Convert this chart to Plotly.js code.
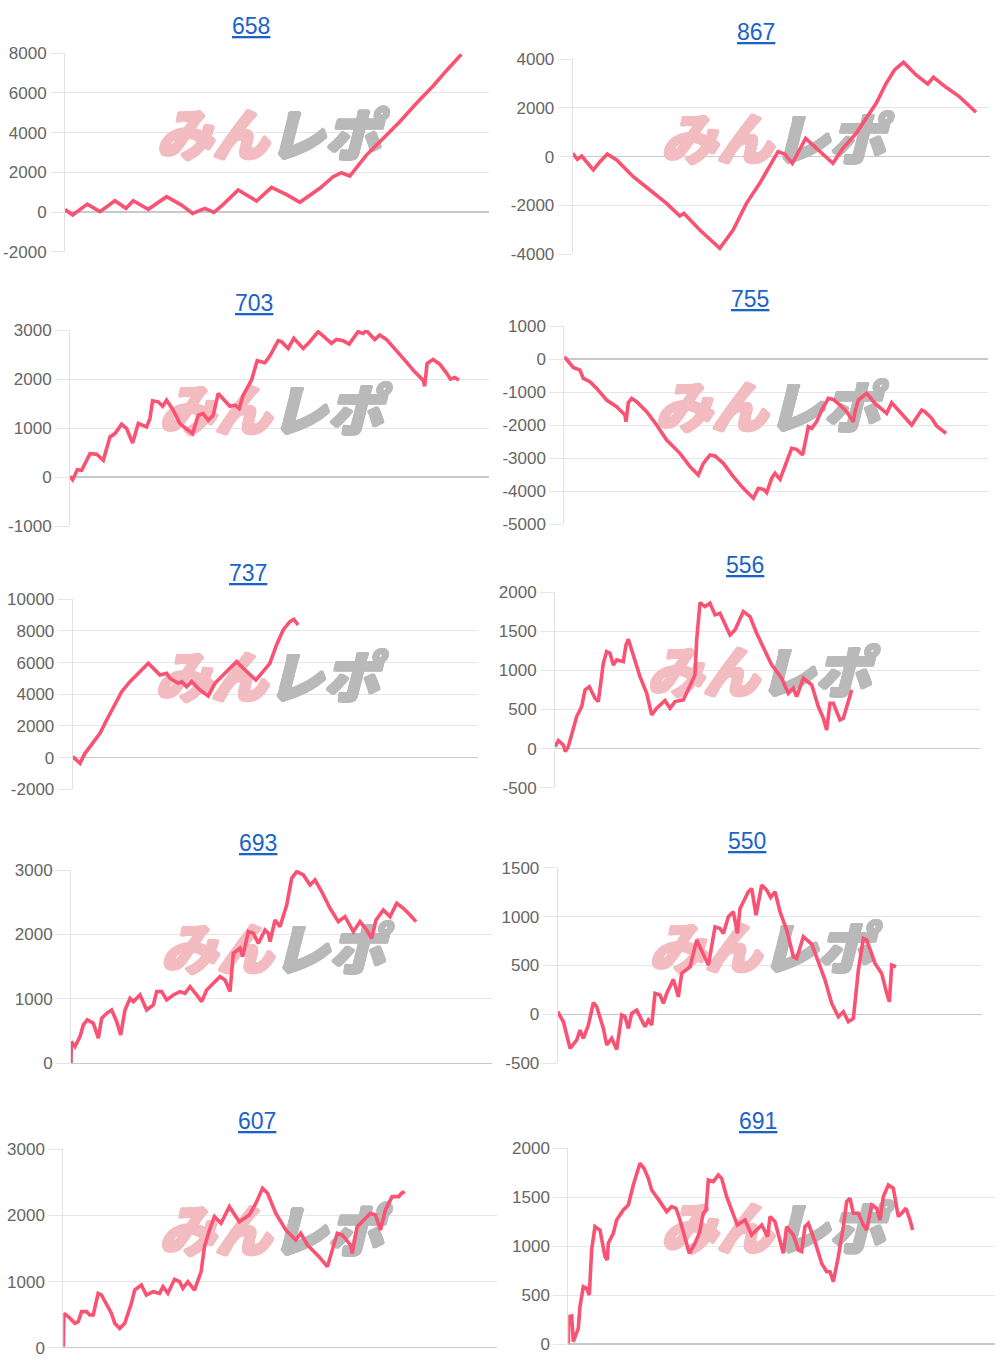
<!DOCTYPE html>
<html>
<head>
<meta charset="utf-8">
<script src="https://cdn.plot.ly/plotly-3.0.1.min.js"></script>
<style>html,body{margin:0;padding:0;background:#fff;}#chart{width:1000px;height:1368px;}</style>
</head>
<body>
<div id="chart"></div>
<script>
// ---- data (game count vs. cumulative difference) ----
const titles = ['658','867','703','755','737','556','693','550','607','691'];

const g658 = [0,230,670,1050,1500,1830,2050,2500,3050,3500,3830,4200,4470,4730,5200,5750,6200,6670,7050,7650,8050,8300,8550,9050,9550,10050,10550,11050,11450,11900];
const v658 = [130,-150,400,20,570,185,570,135,770,350,-70,185,-15,350,1110,555,1245,860,490,1195,1780,1980,1815,2870,3710,4555,5480,6350,7125,7950];

const g867 = [0,140,270,620,820,1040,1320,1820,2320,2820,3220,3340,3820,4420,4820,5220,5620,5920,6170,6370,6600,7000,7420,7820,8120,8520,8820,9120,9420,9670,9940,10320,10670,10840,11220,11620,12120];
const v867 = [137,-110,27,-548,-205,110,-137,-822,-1370,-1918,-2438,-2329,-3014,-3767,-3014,-1918,-1096,-411,205,110,-274,753,205,-274,342,959,1575,2192,3014,3562,3877,3356,2986,3260,2849,2466,1822];

const g703 = [0,80,220,350,600,800,1000,1200,1350,1550,1700,1880,2050,2300,2400,2480,2650,2780,2900,3100,3300,3500,3680,3850,4000,4150,4300,4450,4800,4950,5080,5200,5450,5620,5850,6000,6250,6350,6550,6720,7000,7200,7450,7650,7850,8000,8200,8380,8650,8800,8900,9150,9300,9500,9750,10050,10350,10600,10650,10720,10900,11100,11300,11420,11550,11680];
const v703 = [14,-55,150,136,477,464,341,818,886,1077,988,695,1091,1022,1193,1554,1534,1445,1568,1363,1091,988,886,1261,1295,1159,1261,1704,1445,1466,1397,1670,1977,2372,2331,2468,2781,2761,2624,2829,2624,2761,2965,2849,2727,2808,2781,2713,2965,2931,2986,2808,2897,2808,2624,2386,2147,1977,1854,2318,2399,2304,2127,1997,2031,1977];

const g755 = [0,170,270,470,570,770,970,1270,1570,1820,1850,1920,2020,2170,2470,2770,3070,3470,3770,4020,4170,4370,4520,4770,5070,5370,5670,5820,5970,6070,6220,6320,6470,6670,6820,6970,7150,7320,7420,7570,7720,7920,8070,8270,8470,8670,8720,8820,9070,9320,9670,9820,10070,10420,10720,10820,11020,11170,11450];
const v755 = [71,-131,-252,-333,-585,-685,-887,-1240,-1442,-1694,-1895,-1321,-1190,-1290,-1593,-1996,-2450,-2853,-3256,-3508,-3155,-2903,-2933,-3155,-3558,-3911,-4214,-3911,-3942,-4042,-3609,-3458,-3639,-3105,-2702,-2732,-2903,-2046,-2097,-1895,-1542,-1190,-1220,-1391,-1593,-1895,-1593,-1240,-1038,-1341,-1643,-1321,-1593,-1996,-1542,-1593,-1794,-2026,-2248];

const g737 = [0,220,370,620,820,1020,1220,1470,1720,2020,2270,2520,2620,2820,2920,3170,3270,3420,3570,3820,4070,4270,4470,4720,4920,5120,5320,5500,5670,5920,6120,6320,6520,6640,6770];
const v737 = [63,-358,274,1011,1537,2379,3221,4168,4800,5432,5958,5432,5221,5326,5011,4695,4800,4484,4800,4274,3895,4695,5116,5642,6063,5642,5221,4905,5326,5958,7116,8063,8589,8737,8379];

const g556 = [0,100,250,310,400,500,650,800,900,1030,1200,1300,1450,1550,1650,1750,1850,2050,2130,2200,2350,2550,2750,2900,3050,3300,3450,3600,3850,4050,4200,4250,4350,4500,4650,4800,4950,5250,5400,5650,5850,6050,6250,6500,6800,7000,7150,7250,7450,7700,7900,8050,8150,8250,8350,8550,8650,8800,8900];
const v556 = [26,102,47,-38,26,196,410,538,751,793,644,602,1092,1241,1220,1071,1135,1113,1327,1399,1199,922,708,431,516,614,516,602,623,815,943,1391,1869,1817,1860,1711,1732,1455,1519,1753,1689,1476,1284,1071,900,708,772,666,900,815,538,388,239,580,580,367,388,623,751];

const g693 = [0,10,120,270,370,490,670,820,920,1070,1220,1370,1490,1620,1770,1870,2070,2270,2470,2570,2720,2870,3070,3270,3420,3570,3770,3920,4070,4270,4470,4620,4770,4870,5070,5150,5320,5470,5620,5820,5920,5970,6120,6270,6470,6620,6770,6970,7170,7320,7520,7770,8020,8220,8470,8670,8870,9020,9150,9370,9570,9770,9970,10170,10350];
const v693 = [0,336,259,414,595,673,621,388,698,776,828,647,440,828,1009,957,1061,828,905,1112,1112,983,1061,1112,1086,1190,1061,957,1138,1242,1345,1293,1112,1707,1785,1655,2043,2018,1862,2069,2018,1888,2224,2121,2457,2871,2975,2923,2768,2845,2664,2406,2199,2276,2043,2199,2069,1940,2224,2380,2276,2483,2406,2302,2199];

const g550 = [0,170,370,570,670,770,920,1070,1170,1370,1470,1620,1770,1920,2020,2120,2220,2370,2520,2620,2720,2820,2920,3070,3170,3270,3470,3620,3720,3970,4170,4370,4520,4720,4870,4970,5120,5270,5390,5470,5720,5820,5950,6120,6270,6390,6520,6670,6870,7070,7170,7370,7620,7820,8020,8220,8420,8570,8720,8870,9020,9170,9270,9520,9720,9870,9950,10020,10150];
const v550 = [27,-75,-348,-262,-160,-245,-109,119,78,-143,-313,-245,-358,-7,-24,-143,10,44,-58,-126,-58,-109,215,198,112,215,358,181,419,487,760,606,504,896,879,828,998,1049,828,1083,1254,1288,1015,1322,1271,1196,1254,1049,862,589,572,794,719,538,351,112,-24,27,-75,-41,453,777,760,521,419,215,129,504,487];

const g607 = [0,20,150,250,350,450,550,700,800,900,1050,1150,1300,1450,1550,1700,1850,2050,2150,2350,2500,2700,2900,3000,3150,3350,3500,3600,3750,3950,4150,4250,4400,4550,4750,5000,5300,5600,5800,6000,6150,6400,6700,7000,7150,7350,7700,7950,8250,8400,8650,8700,8850,9000,9250,9400,9550,9700,9900,10100,10180,10280];
const v607 = [15,519,469,419,368,393,545,545,494,494,822,797,645,519,368,292,368,671,872,948,797,847,822,923,822,1034,998,898,998,872,1150,1528,1780,1982,1881,2133,1906,2007,2184,2410,2335,2032,1780,1629,1730,1553,1377,1225,1730,1705,1553,1427,1831,1906,2032,2007,1780,2083,2284,2284,2335,2360];

const g691 = [0,10,100,150,300,350,450,550,630,700,800,950,1100,1170,1200,1350,1450,1650,1800,1950,2150,2270,2400,2500,2750,2950,3100,3230,3350,3500,3630,3800,3930,4050,4130,4200,4350,4500,4600,4750,4950,5070,5300,5500,5650,5800,5980,6050,6200,6400,6450,6550,6750,6900,7000,7100,7200,7400,7600,7750,7850,7950,8100,8250,8350,8450,8550,8700,8850,8950,9100,9250,9350,9450,9600,9750,9900,10000,10130,10250,10330];
const v691 = [7,279,286,24,160,382,586,569,501,961,1199,1165,893,859,1029,1131,1267,1370,1421,1625,1847,1796,1693,1574,1455,1353,1404,1387,1267,1097,927,1029,1131,1336,1370,1676,1659,1727,1693,1506,1336,1216,1267,1114,1165,1216,1097,1302,1250,977,927,1199,1114,961,944,1199,1233,1046,824,739,739,637,893,1199,1455,1489,1336,1336,1216,1165,1421,1387,1267,1506,1625,1591,1302,1336,1387,1267,1165];

// y tick labels per panel
const ticks658 = [-2000,0,2000,4000,6000,8000];
const ticks867 = [-4000,-2000,0,2000,4000];
const ticks703 = [-1000,0,1000,2000,3000];
const ticks755 = [-5000,-4000,-3000,-2000,-1000,0,1000];
const ticks737 = [-2000,0,2000,4000,6000,8000,10000];
const ticks556 = [-500,0,500,1000,1500,2000];
const ticks693 = [0,1000,2000,3000];
const ticks550 = [-500,0,500,1000,1500];
const ticks607 = [0,1000,2000,3000];
const ticks691 = [0,500,1000,1500,2000];

const games = [g658,g867,g703,g755,g737,g556,g693,g550,g607,g691];
const vals  = [v658,v867,v703,v755,v737,v556,v693,v550,v607,v691];
const ticks = [ticks658,ticks867,ticks703,ticks755,ticks737,ticks556,ticks693,ticks550,ticks607,ticks691];

// ---- layout (pixel boxes of each plot area: left, right, top, bottom) ----
const W = 1000, H = 1368;
const boxes = [
  [65,489,53.3,251.7],[572.7,990,59.3,254],
  [70,489,330,526],[564.3,987.7,326,524.3],
  [72.7,478,599.3,789.3],[555,980,592.3,787.7],
  [71,491.7,870,1063.3],[557.7,981.7,867.7,1063.3],
  [63.3,496.7,1149.3,1347.7],[568.3,995,1148.3,1344]
];
const xMax = [12730,12540,12580,12700,12170,12750,12620,12720,13050,12800];
const titlePos = [[251,26],[755.7,31.7],[254,302.7],[750,299.3],[248,572.7],[745,565],[258.3,843.3],[746.7,841],[256.7,1121],[757.7,1121]];

const LINE = '#fa5272';
const PINK = '#f2bcc1';
const GREY = '#b9b9b9';
function thick(c){
  return ['1.6px 0 0 '+c,'-1.6px 0 0 '+c,'0 1.2px 0 '+c,'0 -1.2px 0 '+c,'1.2px 1px 0 '+c,'-1.2px -1px 0 '+c,'1.2px -1px 0 '+c,'-1.2px 1px 0 '+c].join(', ');
}
const traces = [];
const layout = {
  width: W, height: H,
  margin: {l:0,r:0,t:0,b:0},
  paper_bgcolor: '#fff', plot_bgcolor: '#fff',
  showlegend: false,
  annotations: []
};

for (let i = 0; i < 10; i++) {
  const n = i === 0 ? '' : String(i+1);
  const [l, r, t, b] = boxes[i];
  const tk = ticks[i];
  const yMin = tk[0], yMax = tk[tk.length-1];
  layout['xaxis'+n] = {
    domain: [l/W, r/W], range: [0, xMax[i]], anchor: 'y'+n,
    showgrid: false, zeroline: false, showticklabels: false, ticks: '', showline: false, fixedrange: true
  };
  layout['yaxis'+n] = {
    domain: [1 - b/H, 1 - t/H], range: [yMin, yMax], anchor: 'x'+n,
    tickmode: 'array', tickvals: tk, ticktext: tk.map(v => String(v)),
    showgrid: true, gridcolor: '#e6e6e6', gridwidth: 1,
    zeroline: true, zerolinecolor: '#c9c9c9', zerolinewidth: 1.3,
    showline: true, linecolor: '#e2e2e2', linewidth: 1,
    ticks: 'outside', ticklen: 14, tickcolor: '#e6e6e6', tickwidth: 1,
    ticklabelstandoff: 0,
    tickfont: {family: 'Liberation Sans, Arial, sans-serif', size: 17, color: '#666'},
    fixedrange: true
  };
  // watermark (below the line)
  const wx = xMax[i]*0.48, wy = yMin + 0.555*(yMax-yMin);
  traces.push({
    type: 'scatter', mode: 'text', xaxis: 'x'+n, yaxis: 'y'+n,
    x: [wx], y: [wy], text: ['みん'],
    textfont: {family: 'Noto Sans CJK JP, sans-serif', size: 56, color: PINK, weight: 900, style: 'italic', shadow: thick(PINK)},
    textposition: 'middle left', hoverinfo: 'skip', cliponaxis: false
  });
  traces.push({
    type: 'scatter', mode: 'text', xaxis: 'x'+n, yaxis: 'y'+n,
    x: [wx], y: [wy], text: ['レポ'],
    textfont: {family: 'Noto Sans CJK JP, sans-serif', size: 56, color: GREY, weight: 900, style: 'italic', shadow: thick(GREY)},
    textposition: 'middle right', hoverinfo: 'skip', cliponaxis: false
  });
  traces.push({
    type: 'scatter', mode: 'lines', xaxis: 'x'+n, yaxis: 'y'+n,
    x: games[i], y: vals[i],
    line: {color: LINE, width: 3.6}, hoverinfo: 'skip'
  });
  layout.annotations.push({
    xref: 'paper', yref: 'paper', x: titlePos[i][0]/W, y: 1 - titlePos[i][1]/H,
    xanchor: 'center', yanchor: 'middle', showarrow: false,
    text: '<u>' + titles[i] + '</u>',
    font: {family: 'Liberation Sans, Arial, sans-serif', size: 23, color: '#1b63c9'}
  });
}

Plotly.newPlot('chart', traces, layout, {staticPlot: true, displayModeBar: false});
</script>
</body>
</html>
